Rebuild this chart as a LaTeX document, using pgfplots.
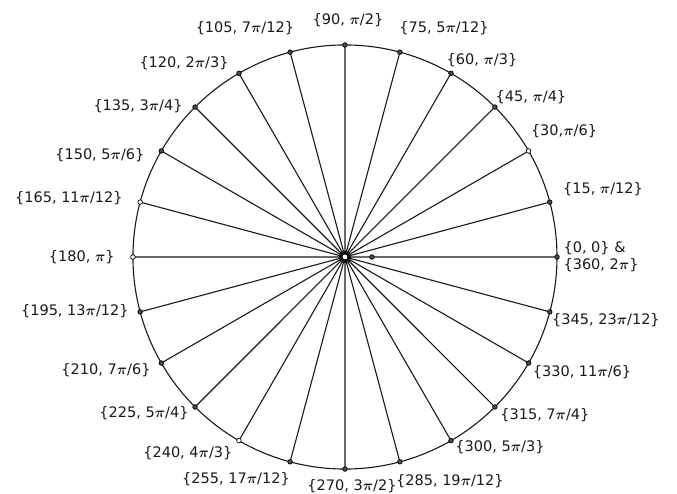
\documentclass[border=0pt]{standalone}
\usepackage{pgfplots}
\pgfplotsset{compat=1.18}
\usepackage{fontspec}
\setmainfont{DejaVu Sans}
\newcommand{\p}{\ensuremath{\boldsymbol{\pi}}}
\usepackage{amsmath}
\begin{document}
\begin{tikzpicture}
\begin{axis}[scale only axis, width=677pt, height=493pt,
  xmin=-1.627, xmax=1.566, ymin=-1.113, ymax=1.212,
  axis lines=none, clip=false]
\path (rel axis cs:0,0) rectangle (rel axis cs:1,1);
\draw[black!90, line width=1.1pt] (axis cs:0,0) ellipse [x radius=1, y radius=1];
\addplot[black!90, line width=1.1pt, line join=round, line cap=round, mark=none, data cs=polar] coordinates {
(0,0)(0,1)(0,0)(15,1)(0,0)(30,1)(0,0)(45,1)(0,0)(60,1)(0,0)(75,1)(0,0)(90,1)(0,0)(105,1)
(0,0)(120,1)(0,0)(135,1)(0,0)(150,1)(0,0)(165,1)(0,0)(180,1)(0,0)(195,1)(0,0)(210,1)(0,0)(225,1)
(0,0)(240,1)(0,0)(255,1)(0,0)(270,1)(0,0)(285,1)(0,0)(300,1)(0,0)(315,1)(0,0)(330,1)(0,0)(345,1)(0,0)};
\addplot[only marks, mark=*, mark size=2.3pt, mark options={fill=black!70, draw=black, line width=0.7pt}, data cs=polar] coordinates {
(0,1)(15,1)(45,1)(60,1)(75,1)(90,1)(105,1)(120,1)(135,1)(150,1)(195,1)(210,1)(225,1)
(255,1)(270,1)(285,1)(300,1)(315,1)(330,1)(345,1)(0,0.127)};
\addplot[only marks, mark=*, mark size=2.3pt, mark options={fill=white, draw=black, line width=0.7pt}, data cs=polar] coordinates {
(30,1)(165,1)(180,1)(240,1)};
\addplot[only marks, mark=*, mark size=3.6pt, mark options={fill=white, draw=black, line width=1.9pt}] coordinates {(0,0)};
\begin{scope}[every node/.style={font=\fontsize{14.5}{17}\selectfont, text=black!90, inner sep=0pt}]
\node at (axis cs:0.014,1.118) {\{90, \p/2\}};
\node at (axis cs:-0.472,1.080) {\{105, 7\p/12\}};
\node at (axis cs:0.467,1.080) {\{75, 5\p/12\}};
\node at (axis cs:-0.759,0.915) {\{120, 2\p/3\}};
\node at (axis cs:0.646,0.929) {\{60, \p/3\}};
\node at (axis cs:0.877,0.755) {\{45, \p/4\}};
\node at (axis cs:1.033,0.594) {\{30,\p/6\}};
\node at (axis cs:1.217,0.321) {\{15, \p/12\}};
\node[anchor=west, align=left] at (axis cs:1.03,0) {\{0, 0\} \&\\\{360, 2\p\}};
\node at (axis cs:1.231,-0.297) {\{345, 23\p/12\}};
\node at (axis cs:1.118,-0.542) {\{330, 11\p/6\}};
\node at (axis cs:0.943,-0.745) {\{315, 7\p/4\}};
\node at (axis cs:0.731,-0.896) {\{300, 5\p/3\}};
\node at (axis cs:0.495,-1.057) {\{285, 19\p/12\}};
\node at (axis cs:0.033,-1.080) {\{270, 3\p/2\}};
\node at (axis cs:-0.514,-1.047) {\{255, 17\p/12\}};
\node at (axis cs:-0.741,-0.925) {\{240, 4\p/3\}};
\node at (axis cs:-0.948,-0.736) {\{225, 5\p/4\}};
\node at (axis cs:-1.127,-0.533) {\{210, 7\p/6\}};
\node at (axis cs:-1.274,-0.255) {\{195, 13\p/12\}};
\node at (axis cs:-1.241,0) {\{180, \p\}};
\node at (axis cs:-1.302,0.278) {\{165, 11\p/12\}};
\node at (axis cs:-1.156,0.481) {\{150, 5\p/6\}};
\node at (axis cs:-0.976,0.712) {\{135, 3\p/4\}};
\end{scope}
\end{axis}
\end{tikzpicture}
\end{document}
